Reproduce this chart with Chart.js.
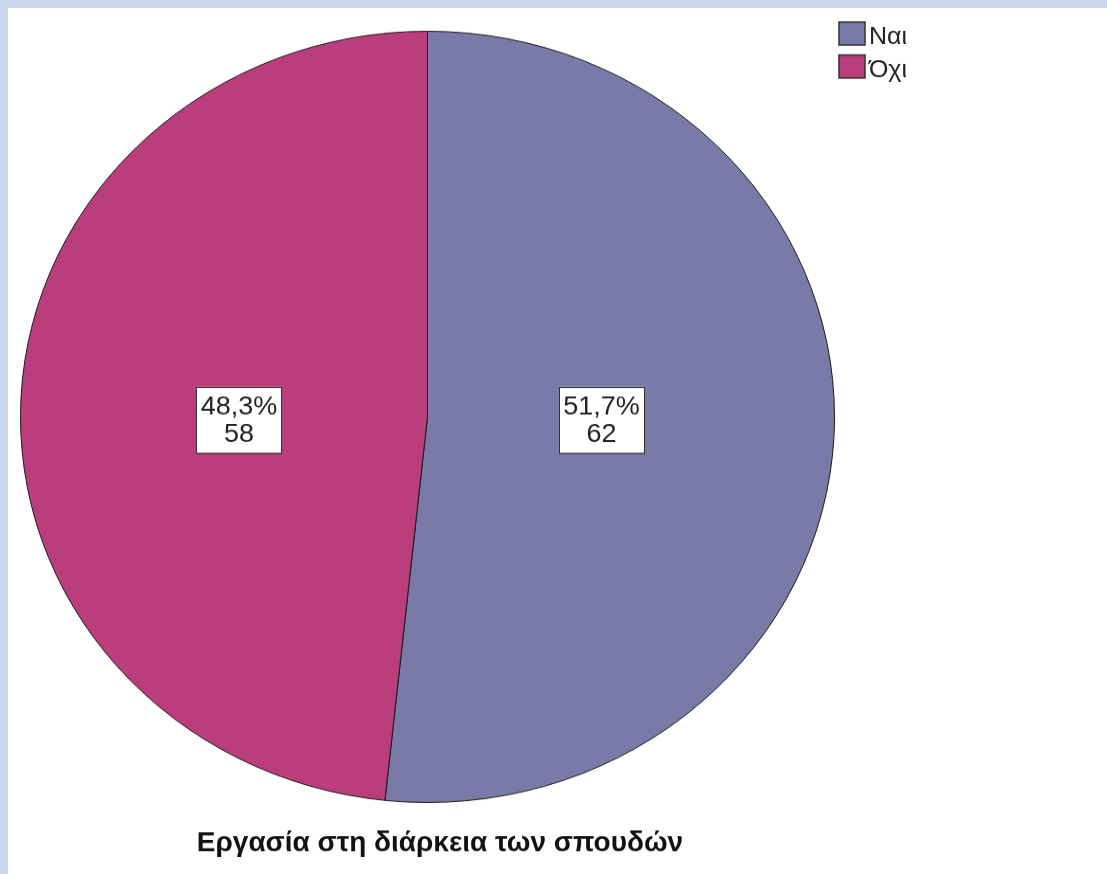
<!DOCTYPE html>
<html>
<head>
<meta charset="utf-8">
<script src="https://cdn.jsdelivr.net/npm/chart.js@4/dist/chart.umd.min.js"></script>
<style>
  html, body { margin: 0; padding: 0; background: #c8d7ee; overflow: hidden; }
  #frame { position: absolute; left: 8px; top: 8px; width: 1099px; height: 866px; background: #fff; overflow: hidden; }
  #myChart { display: block; transform-origin: 0 0; }
</style>
</head>
<body>
<div id="frame"><canvas id="myChart" width="1099" height="914"></canvas></div>
<script>
const labels = ["Ναι", "Όχι"];
const counts = [62, 58];
const chartTitle = "Εργασία στη διάρκεια των σπουδών";
const sliceColors = ["#7a7aa8", "#ba3e7b"];

// the reference pie is a bit wider than tall, so the canvas is squashed vertically
const squash = 866 / 914;
const labelOffset = [0.428, 0.464];
document.getElementById("myChart").style.transform = "scaleY(" + squash + ")";

const total = counts.reduce((a, b) => a + b, 0);

function pct(v) {
  return (v / total * 100).toFixed(1).replace(".", ",") + "%";
}

const overlay = {
  id: "overlay",
  afterDraw(chart) {
    const ctx = chart.ctx;
    const meta = chart.getDatasetMeta(0);
    ctx.save();
    // draw in screen pixels from here on
    ctx.scale(1, 1 / squash);
    ctx.textBaseline = "middle";

    // value boxes
    meta.data.forEach((arc, i) => {
      const mid = (arc.startAngle + arc.endAngle) / 2;
      const r = arc.outerRadius * labelOffset[i];
      const x = arc.x + Math.cos(mid) * r;
      const y = arc.y * squash + 3;
      const w = 85, h = 66;
      ctx.fillStyle = "#ffffff";
      ctx.fillRect(x - w / 2, y - h / 2, w, h);
      ctx.strokeStyle = "#333333";
      ctx.lineWidth = 1;
      ctx.strokeRect(Math.round(x - w / 2) + 0.5, Math.round(y - h / 2) + 0.5, w, h);
      ctx.fillStyle = "#222222";
      ctx.font = "27px 'Liberation Sans', Arial, sans-serif";
      ctx.textAlign = "center";
      ctx.fillText(pct(counts[i]), x, y - 13);
      ctx.fillText(String(counts[i]), x, y + 15);
    });

    // legend
    labels.forEach((lab, i) => {
      const top = 14 + i * 33;
      ctx.fillStyle = sliceColors[i];
      ctx.fillRect(831, top, 26, 23);
      ctx.strokeStyle = "#333333";
      ctx.lineWidth = 1.5;
      ctx.strokeRect(831, top, 26, 23);
      ctx.fillStyle = "#222222";
      ctx.font = "25px 'Liberation Sans', Arial, sans-serif";
      ctx.textAlign = "left";
      ctx.fillText(lab, 861, top + 15);
    });

    // title under the pie
    ctx.fillStyle = "#111111";
    ctx.font = "bold 28px 'Liberation Sans', Arial, sans-serif";
    ctx.textAlign = "center";
    ctx.fillText(chartTitle, 432, 836);
    ctx.restore();
  },
};

new Chart("myChart", {
  type: "pie",
  data: {
    labels: labels,
    datasets: [
      {
        data: counts,
        backgroundColor: sliceColors,
        borderColor: "#1a1a1a",
        borderWidth: 1,
        hoverOffset: 0,
        radius: 407,
      },
    ],
  },
  options: {
    responsive: false,
    devicePixelRatio: 1,
    animation: false,
    layout: { padding: { left: 0, right: 260, top: 0, bottom: 51 } },
    plugins: {
      legend: { display: false },
      tooltip: { enabled: false },
    },
  },
  plugins: [overlay],
});
</script>
</body>
</html>
